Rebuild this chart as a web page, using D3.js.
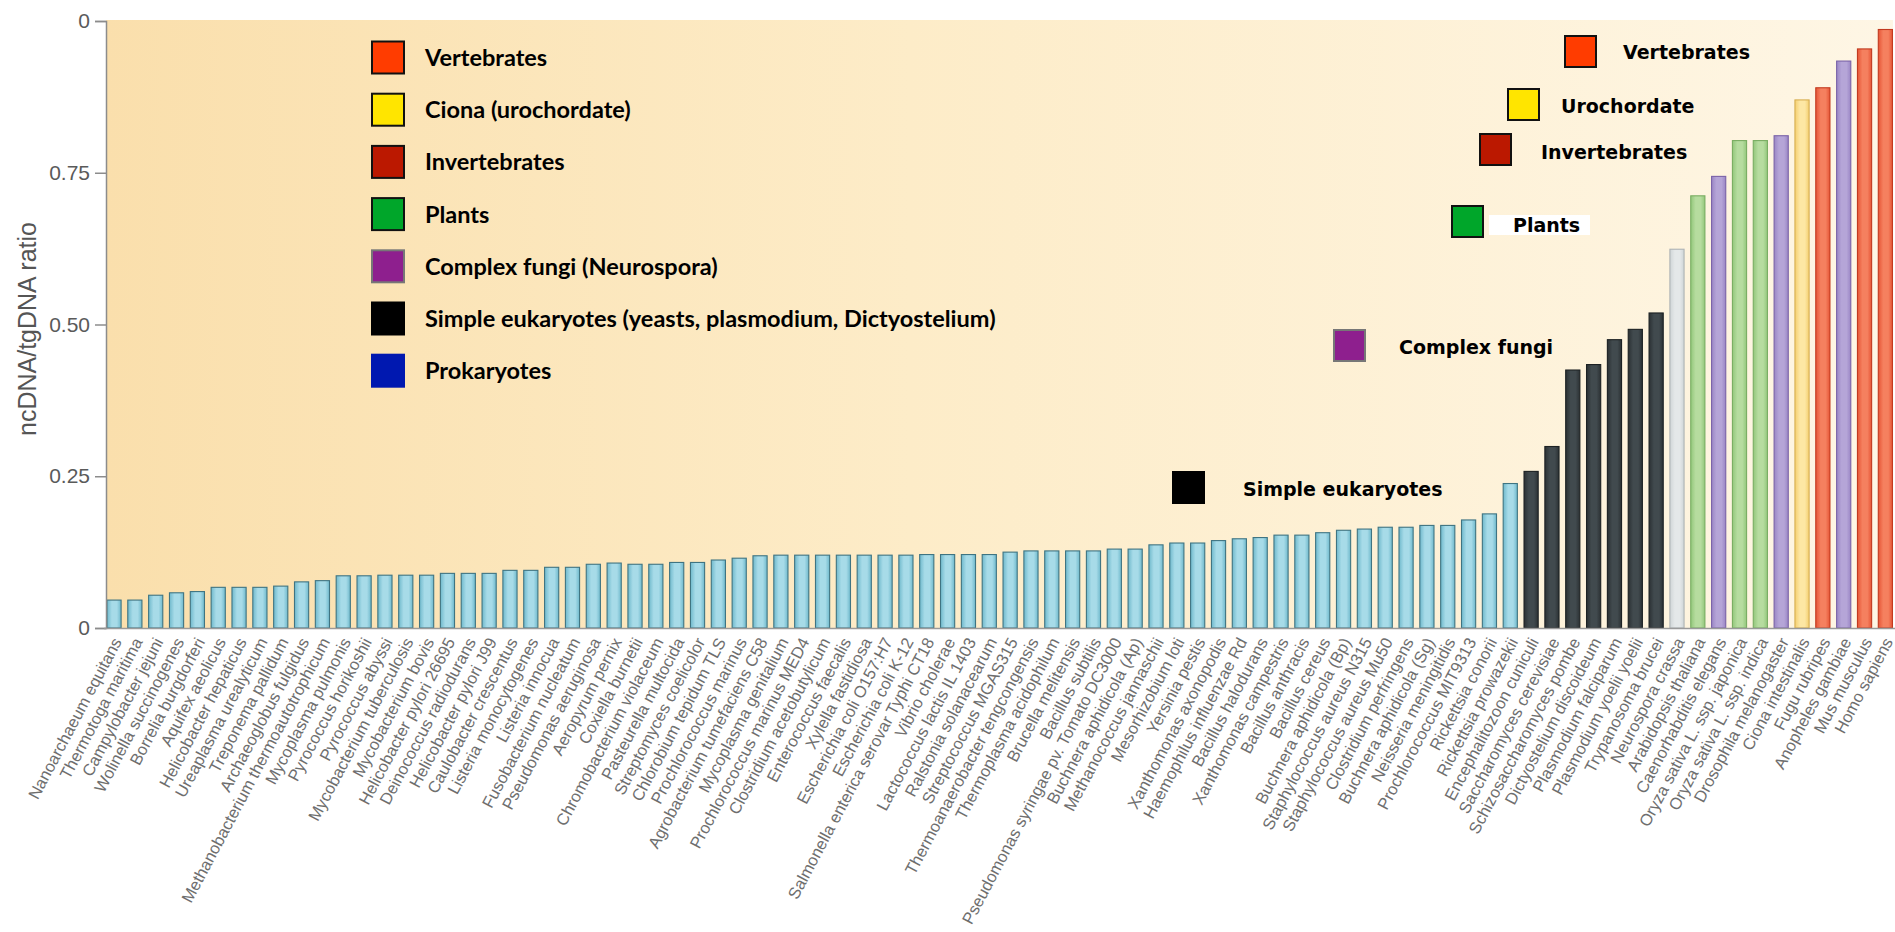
<!DOCTYPE html>
<html>
<head>
<meta charset="utf-8">
<script src="https://cdn.jsdelivr.net/npm/d3@7"></script>
<style>
  html, body { margin: 0; padding: 0; background: #ffffff; }
  svg { display: block; }
</style>
</head>
<body>
<svg id="chart" width="1895" height="932"></svg>
<script>
// Genomes, ordered by the ratio of non-coding to total genomic DNA
const species = [
  "Nanoarchaeum equitans", "Thermotoga maritima", "Campylobacter jejuni", "Wolinella succinogenes",
  "Borrelia burgdorferi", "Aquifex aeolicus", "Helicobacter hepaticus", "Ureaplasma urealyticum",
  "Treponema pallidum", "Archaeoglobus fulgidus", "Methanobacterium thermoautotrophicum", "Mycoplasma pulmonis",
  "Pyrococcus horikoshii", "Pyrococcus abyssi", "Mycobacterium tuberculosis", "Mycobacterium bovis",
  "Helicobacter pylori 26695", "Deinococcus radiodurans", "Helicobacter pylori J99", "Caulobacter crescentus",
  "Listeria monocytogenes", "Listeria innocua", "Fusobacterium nucleatum", "Pseudomonas aeruginosa",
  "Aeropyrum pernix", "Coxiella burnetii", "Chromobacterium violaceum", "Pasteurella multocida",
  "Streptomyces coelicolor", "Chlorobium tepidum TLS", "Prochlorococcus marinus", "Agrobacterium tumefaciens C58",
  "Mycoplasma genitalium", "Prochlorococcus marinus MED4", "Clostridium acetobutylicum", "Enterococcus faecalis",
  "Xylella fastidiosa", "Escherichia coli O157:H7", "Escherichia coli K-12", "Salmonella enterica serovar Typhi CT18",
  "Vibrio cholerae", "Lactococcus lactis IL 1403", "Ralstonia solanacearum", "Streptococcus MGAS315",
  "Thermoanaerobacter tengcongensis", "Thermoplasma acidophilum", "Brucella melitensis", "Bacillus subtilis",
  "Pseudomonas syringae pv. Tomato DC3000", "Buchnera aphidicola (Ap)", "Methanococcus jannaschii", "Mesorhizobium loti",
  "Yersinia pestis", "Xanthomonas axonopodis", "Haemophilus influenzae Rd", "Bacillus halodurans",
  "Xanthomonas campestris", "Bacillus anthracis", "Bacillus cereus", "Buchnera aphidicola (Bp)",
  "Staphylococcus aureus N315", "Staphylococcus aureus Mu50", "Clostridium perfringens", "Buchnera aphidicola (Sg)",
  "Neisseria meningitidis", "Prochlorococcus MIT9313", "Rickettsia conorii", "Rickettsia prowazekii",
  "Encephalitozoon cuniculi", "Saccharomyces cerevisiae", "Schizosaccharomyces pombe", "Dictyostelium discoideum",
  "Plasmodium falciparum", "Plasmodium yoelii yoelii", "Trypanosoma brucei", "Neurospora crassa",
  "Arabidopsis thaliana", "Caenorhabditis elegans", "Oryza sativa L. ssp. japonica", "Oryza sativa L. ssp. indica",
  "Drosophila melanogaster", "Ciona intestinalis", "Fugu rubripes", "Anopheles gambiae",
  "Mus musculus", "Homo sapiens"
];

const ratios = [
  0.046, 0.046, 0.054, 0.058, 0.060, 0.067, 0.067, 0.067, 0.069, 0.076,
  0.078, 0.086, 0.086, 0.087, 0.087, 0.087, 0.090, 0.090, 0.090, 0.095,
  0.095, 0.100, 0.100, 0.105, 0.107, 0.105, 0.105, 0.108, 0.108, 0.112,
  0.115, 0.119, 0.120, 0.120, 0.120, 0.120, 0.120, 0.120, 0.120, 0.121,
  0.121, 0.121, 0.121, 0.125, 0.127, 0.127, 0.127, 0.127, 0.130, 0.130,
  0.137, 0.140, 0.140, 0.144, 0.147, 0.149, 0.153, 0.153, 0.157, 0.161,
  0.163, 0.166, 0.166, 0.169, 0.169, 0.178, 0.188, 0.238,
  0.258, 0.299, 0.425, 0.434, 0.475, 0.492, 0.519,
  0.624, 0.712, 0.744, 0.803, 0.803, 0.811, 0.870, 0.890, 0.934, 0.954, 0.986
];

// bar colour group for each genome
const groups = [].concat(
  Array(68).fill("prok"),
  Array(7).fill("simple"),
  ["neuro", "plant", "purple", "plant", "plant", "purple", "uro", "vert", "purple", "vert", "vert"]
);

const yTicks = [0, 0.25, 0.5, 0.75, 1];
const yTickLabels = ["0", "0.25", "0.50", "0.75", "0"];

const legendLabels = ["Vertebrates", "Ciona (urochordate)", "Invertebrates", "Plants",
  "Complex fungi (Neurospora)", "Simple eukaryotes (yeasts, plasmodium, Dictyostelium)", "Prokaryotes"];
const legendColors = ["#ff3c00", "#ffe500", "#bb1800", "#00a62a", "#8e1f8e", "#000000", "#0018b0"];
const legendBorders = ["#111", "#111", "#111", "#111", "#777", "#000", "#0018b0"];

const noteLabels = ["Vertebrates", "Urochordate", "Invertebrates", "Plants", "Complex fungi", "Simple eukaryotes"];
const noteColors = ["#ff3c00", "#ffe500", "#bb1800", "#00a62a", "#8e1f8e", "#000000"];
const noteBorders = ["#111", "#111", "#111", "#111", "#777", "#000"];

// bar palette: [edge, centre, outline]
const palette = {
  prok:   ["#6fb9cc", "#a7dbe8", "#3f7482"],
  simple: ["#2b3134", "#414a4e", "#1c2123"],
  neuro:  ["#cfd5d7", "#e4e8e9", "#aeb3b5"],
  plant:  ["#93c77b", "#b6dc9f", "#79ad62"],
  purple: ["#9a86c5", "#b5a5d7", "#7a63a8"],
  uro:    ["#f4cf70", "#fde7a4", "#d7ae52"],
  vert:   ["#e65536", "#f5805f", "#c23a1f"]
};

const plotLeft = 106, plotRight = 1893, plotTop = 20, plotBottom = 628;

const svg = d3.select("#chart");
const defs = svg.append("defs");

const bg = defs.append("linearGradient").attr("id", "bg").attr("x1", 0).attr("x2", 1).attr("y1", 0).attr("y2", 0);
bg.append("stop").attr("offset", "0%").attr("stop-color", "#fadfac");
bg.append("stop").attr("offset", "45%").attr("stop-color", "#fdecc8");
bg.append("stop").attr("offset", "100%").attr("stop-color", "#fef6e5");

Object.entries(palette).forEach(([k, c]) => {
  const g = defs.append("linearGradient").attr("id", "bar-" + k).attr("x1", 0).attr("x2", 1).attr("y1", 0).attr("y2", 0);
  g.append("stop").attr("offset", "0%").attr("stop-color", c[0]);
  g.append("stop").attr("offset", "35%").attr("stop-color", c[1]);
  g.append("stop").attr("offset", "70%").attr("stop-color", c[1]);
  g.append("stop").attr("offset", "100%").attr("stop-color", c[0]);
});

const x = d3.scaleBand()
  .domain(species)
  .range([103.6, 1895.8])
  .paddingInner(0.32)
  .paddingOuter(0.16);

const y = d3.scaleLinear().domain([0, 1]).range([plotBottom, plotTop + 1]);

// plot background
svg.append("rect")
  .attr("x", plotLeft).attr("y", plotTop)
  .attr("width", plotRight - plotLeft).attr("height", plotBottom - plotTop)
  .attr("fill", "url(#bg)");

// bars
svg.append("g").selectAll("rect")
  .data(species)
  .join("rect")
  .attr("x", d => x(d))
  .attr("y", (d, i) => y(ratios[i]))
  .attr("width", x.bandwidth())
  .attr("height", (d, i) => plotBottom - y(ratios[i]))
  .attr("fill", (d, i) => "url(#bar-" + groups[i] + ")")
  .attr("stroke", (d, i) => palette[groups[i]][2])
  .attr("stroke-width", 1.1);

// y axis
const yAxis = svg.append("g")
  .attr("transform", `translate(${plotLeft},0)`)
  .call(d3.axisLeft(y).tickValues(yTicks).tickSize(11).tickPadding(5)
    .tickFormat((d, i) => yTickLabels[i]));
yAxis.select(".domain").attr("stroke", "#8c8c8c").attr("stroke-width", 1.5);
yAxis.selectAll(".tick line").attr("stroke", "#8c8c8c").attr("stroke-width", 1.5);
yAxis.selectAll(".tick text")
  .attr("fill", "#5a5a5a")
  .style("font-family", "'Liberation Sans', Arial, sans-serif")
  .style("font-size", "21px");

// x axis with slanted genome names
const xAxis = svg.append("g")
  .attr("transform", `translate(0,${plotBottom})`)
  .call(d3.axisBottom(x).tickSize(0).tickPadding(0));
xAxis.select(".domain").attr("stroke", "#9a9a9a").attr("stroke-width", 1.5);
xAxis.selectAll(".tick text")
  .attr("x", 0).attr("y", 0).attr("dy", "0.35em")
  .attr("transform", "translate(3,11) rotate(-62)")
  .attr("text-anchor", "end")
  .attr("fill", "#6e6e6e")
  .style("font-family", "'Liberation Sans', Arial, sans-serif")
  .style("font-size", "16.5px");

// y axis title
svg.append("text")
  .attr("transform", "translate(36,329) rotate(-90)")
  .attr("text-anchor", "middle")
  .attr("fill", "#555")
  .style("font-family", "'Liberation Sans', Arial, sans-serif")
  .style("font-size", "25px")
  .text("ncDNA/tgDNA ratio");

// legend
const legend = svg.append("g");
legendLabels.forEach((lab, i) => {
  const cy = 57.5 + i * 52.2;
  legend.append("rect")
    .attr("x", 372).attr("y", cy - 16)
    .attr("width", 32).attr("height", 32)
    .attr("fill", legendColors[i])
    .attr("stroke", legendBorders[i]).attr("stroke-width", 2);
  legend.append("text")
    .attr("x", 425).attr("y", cy).attr("dy", "0.36em")
    .attr("fill", "#000")
    .style("font-family", "Lato, sans-serif")
    .style("font-weight", 700)
    .style("font-size", "23.5px")
    .text(lab);
});

// group annotations beside the eukaryote bars
const notePos = [
  { sx: 1565, sy: 36, tx: 1623, ty: 52 },
  { sx: 1508, sy: 89, tx: 1561, ty: 106 },
  { sx: 1480, sy: 134, tx: 1541, ty: 152 },
  { sx: 1452, sy: 206, tx: 1513, ty: 225 },
  { sx: 1334, sy: 330, tx: 1399, ty: 347 },
  { sx: 1173, sy: 472, tx: 1243, ty: 489 }
];
const notes = svg.append("g");
// white strip behind "Plants"
notes.append("rect")
  .attr("x", 1489).attr("y", 215).attr("width", 101).attr("height", 20)
  .attr("fill", "#ffffff");
noteLabels.forEach((lab, i) => {
  const p = notePos[i];
  notes.append("rect")
    .attr("x", p.sx).attr("y", p.sy)
    .attr("width", 31).attr("height", 31)
    .attr("fill", noteColors[i])
    .attr("stroke", noteBorders[i]).attr("stroke-width", 2);
  notes.append("text")
    .attr("x", p.tx).attr("y", p.ty).attr("dy", "0.36em")
    .attr("fill", "#000")
    .style("font-family", "'DejaVu Sans', sans-serif")
    .style("font-weight", 700)
    .style("font-size", "19px")
    .text(lab);
});
</script>
</body>
</html>
